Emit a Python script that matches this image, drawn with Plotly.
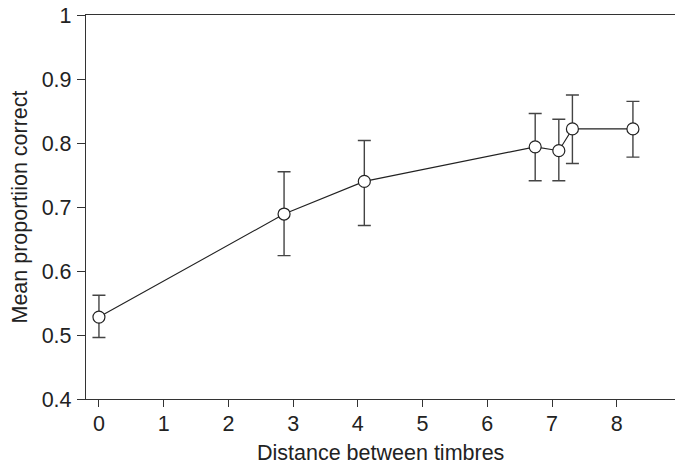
import plotly.graph_objects as go

distance = [0.0, 2.86, 4.10, 6.74, 7.105, 7.315, 8.25]
mean_correct = [0.528, 0.689, 0.740, 0.794, 0.788, 0.822, 0.822]
err_upper = [0.562, 0.755, 0.804, 0.846, 0.837, 0.875, 0.865]
err_lower = [0.496, 0.624, 0.671, 0.741, 0.741, 0.768, 0.778]

x_ticks = [0, 1, 2, 3, 4, 5, 6, 7, 8, 9]
y_ticks = [0.4, 0.5, 0.6, 0.7, 0.8, 0.9, 1.0]
y_tick_text = ["0.4", "0.5", "0.6", "0.7", "0.8", "0.9", "1"]
x_title = "Distance between timbres"
y_title = "Mean proportiion correct"

plus = [u - m for u, m in zip(err_upper, mean_correct)]
minus = [m - l for m, l in zip(mean_correct, err_lower)]

font_family = "Liberation Sans, Arial, sans-serif"
axis_color = "#333333"
text_color = "#222222"
fsize = 21.5

fig = go.Figure()
fig.add_trace(go.Scatter(
    x=distance, y=mean_correct,
    mode="lines+markers",
    line=dict(color="#222222", width=1.1),
    marker=dict(size=12, color="white", line=dict(color="#222222", width=1.2)),
    error_y=dict(type="data", symmetric=False, array=plus, arrayminus=minus,
                 color="#444444", thickness=1.4, width=6.5),
    showlegend=False,
    cliponaxis=False,
))

# x-axis title drawn as an annotation so it can sit right at the bottom edge
fig.add_annotation(
    text=x_title, xref="paper", yref="paper", x=(0.2 + 4.35) / 9.1, y=0,
    xanchor="center", yanchor="top", yshift=-40, showarrow=False,
    font=dict(family=font_family, size=fsize, color=text_color),
)

# the page body keeps an 8px margin; keep the figure inside the window
fig.update_layout(
    width=667, height=452,
    margin=dict(l=78, r=0, t=7, b=60.5),
    paper_bgcolor="white", plot_bgcolor="white",
    font=dict(family=font_family, size=fsize, color=text_color),
    xaxis=dict(
        range=[-0.2, 8.9], tickmode="array", tickvals=x_ticks,
        ticks="outside", ticklen=7, tickwidth=1.3, tickcolor=axis_color,
        tickfont=dict(size=fsize, color=text_color),
        ticklabeloverflow="allow", ticklabelstandoff=-2,
        showline=True, linecolor=axis_color, linewidth=1.3, mirror=True,
        showgrid=False, zeroline=False, automargin=False,
    ),
    yaxis=dict(
        range=[0.4, 1.0], tickmode="array", tickvals=y_ticks, ticktext=y_tick_text,
        ticks="outside", ticklen=8, tickwidth=1.3, tickcolor=axis_color,
        tickfont=dict(size=fsize, color=text_color),
        ticklabeloverflow="allow", ticklabelstandoff=1,
        showline=True, linecolor=axis_color, linewidth=1.3, mirror=False,
        showgrid=False, zeroline=False, automargin=False,
        title=dict(text=y_title, standoff=8,
                   font=dict(size=fsize, color=text_color)),
    ),
)

fig.write_html("out.html")
